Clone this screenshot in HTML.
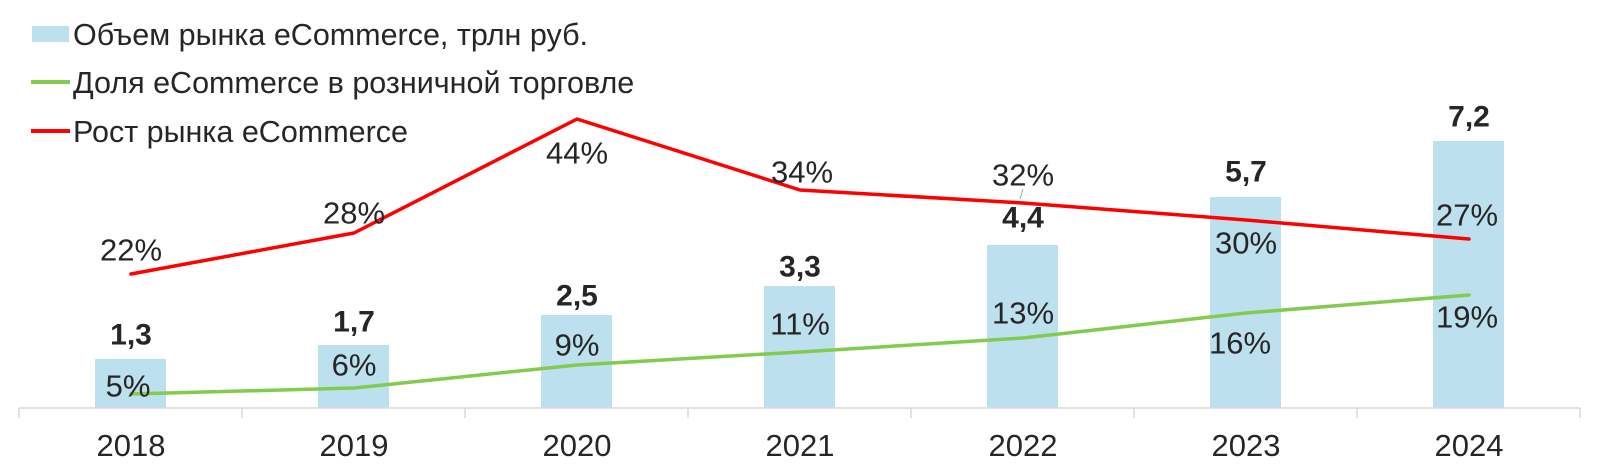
<!DOCTYPE html>
<html><head><meta charset="utf-8"><style>
html,body{margin:0;padding:0;background:#fff;}
svg{display:block;}
text{font-family:"Liberation Sans",Arial,sans-serif;fill:#262626;}
</style></head><body>
<svg width="1600" height="471" viewBox="0 0 1600 471" xmlns="http://www.w3.org/2000/svg">
<!-- legend -->
<rect x="32" y="26" width="37" height="16" fill="#bde0ee"/>
<text x="73" y="45" font-size="30.5">Объем рынка eCommerce, трлн руб.</text>
<line x1="31" y1="82" x2="70" y2="82" stroke="#82cb50" stroke-width="4"/>
<text x="73" y="93" font-size="30.5">Доля eCommerce в розничной торговле</text>
<line x1="31" y1="131" x2="70" y2="131" stroke="#ff0000" stroke-width="4"/>
<text x="73" y="142" font-size="30.5">Рост рынка eCommerce</text>
<!-- bars -->
<g fill="#bde0ee">
<rect x="95" y="359" width="71" height="49"/>
<rect x="318" y="345" width="71" height="63"/>
<rect x="541" y="315" width="71" height="93"/>
<rect x="764" y="286" width="71" height="122"/>
<rect x="987" y="245" width="71" height="163"/>
<rect x="1210" y="197" width="71" height="211"/>
<rect x="1433" y="141" width="71" height="267"/>
</g>
<!-- axis -->
<g stroke="#d9d9d9" stroke-width="1.5">
<line x1="19" y1="408" x2="1580" y2="408"/>
<line x1="19" y1="408" x2="19" y2="418"/>
<line x1="242" y1="408" x2="242" y2="418"/>
<line x1="465" y1="408" x2="465" y2="418"/>
<line x1="688" y1="408" x2="688" y2="418"/>
<line x1="911" y1="408" x2="911" y2="418"/>
<line x1="1134" y1="408" x2="1134" y2="418"/>
<line x1="1357" y1="408" x2="1357" y2="418"/>
<line x1="1580" y1="408" x2="1580" y2="418"/>
</g>
<g font-size="31" text-anchor="middle">
<text x="131" y="456">2018</text><text x="354" y="456">2019</text><text x="577" y="456">2020</text>
<text x="800" y="456">2021</text><text x="1023" y="456">2022</text><text x="1246" y="456">2023</text><text x="1469" y="456">2024</text>
</g>
<!-- lines -->
<polyline points="131,274 354,233 577,119 800,190 1023,203 1246,220 1469,239" fill="none" stroke="#ff0000" stroke-width="3.5" stroke-linejoin="round" stroke-linecap="round"/>
<polyline points="131,394 354,388 577,365 800,352 1023,338 1246,313 1469,295" fill="none" stroke="#82cb50" stroke-width="3.5" stroke-linejoin="round" stroke-linecap="round"/>
<line x1="1023" y1="189" x2="1020" y2="199" stroke="#a6a6a6" stroke-width="1"/>
<!-- value labels -->
<g font-size="30" font-weight="bold" text-anchor="middle" dominant-baseline="central">
<text x="131" y="335">1,3</text><text x="354" y="322">1,7</text><text x="577" y="296">2,5</text>
<text x="800" y="267">3,3</text><text x="1023" y="218">4,4</text><text x="1246" y="172">5,7</text><text x="1469" y="117">7,2</text>
</g>
<!-- red labels -->
<g font-size="31" text-anchor="middle" dominant-baseline="central">
<text x="131" y="250">22%</text><text x="354" y="213">28%</text><text x="577" y="153">44%</text>
<text x="802" y="172">34%</text><text x="1023" y="175">32%</text><text x="1246" y="243">30%</text><text x="1467" y="215">27%</text>
</g>
<!-- green labels -->
<g font-size="31" text-anchor="middle" dominant-baseline="central">
<text x="128" y="386">5%</text><text x="354" y="365">6%</text><text x="577" y="345">9%</text>
<text x="800" y="324">11%</text><text x="1023" y="313">13%</text><text x="1240" y="343">16%</text><text x="1467" y="317">19%</text>
</g>
</svg>
</body></html>
